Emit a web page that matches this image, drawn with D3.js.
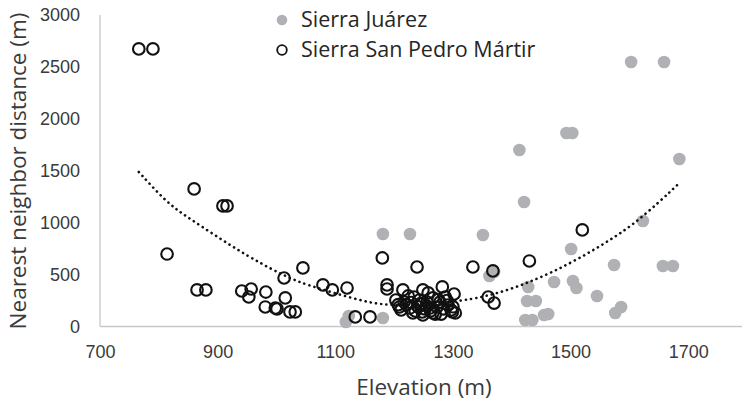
<!DOCTYPE html>
<html>
<head>
<meta charset="utf-8">
<script src="https://cdn.jsdelivr.net/npm/d3@7"></script>
<style>
  body { margin: 0; background: #fff; }
  svg { display: block; font-family: 'Open Sans', sans-serif; }
  .tick text { fill: #3a3a3a; font-size: 18px; }
  .axis-label { fill: #3a3a3a; font-size: 22.5px; }
  .legend text { fill: #262626; font-size: 21.5px; }
</style>
</head>
<body>
<svg width="742" height="405"></svg>
<script>
// Sierra Juárez (elevation m, nearest neighbour distance m)
const juarezElev = [1603, 1659, 1493, 1503, 1413, 1685, 1421, 1623, 1501, 1574, 1657, 1674,
  1428, 1472, 1504, 1510, 1545, 1426, 1441, 1576, 1586, 1423, 1435, 1455, 1462,
  1351, 1181, 1227, 1362, 1370, 1181, 1118, 1123];
const juarezDist = [2548, 2548, 1863, 1863, 1700, 1613, 1199, 1016, 747, 592, 583, 583,
  381, 429, 438, 371, 294, 246, 246, 130, 188, 63, 63, 111, 120,
  881, 891, 891, 487, 525, 82, 43, 101];

// Sierra San Pedro Mártir
const spmElev = [766, 790, 860, 909, 916, 814, 865, 880, 941, 957, 953, 982, 981, 998, 1001,
  1015, 1013, 1045, 1023, 1032, 1079, 1095, 1120, 1134, 1159, 1180, 1188, 1188,
  1239, 1334, 1368, 1360, 1370, 1430, 1520,
  1215, 1249, 1282, 1302, 1209, 1217, 1227, 1234, 1241, 1248, 1256, 1261, 1266,
  1273, 1278, 1287, 1292, 1299, 1304, 1266, 1249, 1232, 1224, 1203, 1258, 1297, 1280, 1243,
  1212, 1221, 1236, 1245, 1252, 1262, 1270, 1284, 1290, 1229, 1255, 1275, 1207, 1300];
const spmDist = [2673, 2673, 1325, 1161, 1161, 698, 352, 352, 342, 361, 284, 332, 188, 178, 169,
  275, 467, 564, 140, 140, 400, 352, 371, 92, 92, 660, 400, 361,
  573, 573, 535, 284, 226, 631, 930,
  352, 352, 381, 313, 188, 236, 178, 284, 188, 140, 236, 178, 275,
  188, 236, 284, 207, 140, 130, 130, 111, 130, 294, 255, 323, 159, 120, 255,
  160, 210, 150, 220, 170, 150, 120, 170, 250, 230, 200, 260, 210, 190];

// polynomial (order 2) trendline
const trendElev = [766, 814, 848, 930, 972, 1011, 1040, 1069, 1154, 1198, 1316, 1384, 1426,
  1470, 1516, 1562, 1606, 1652, 1685];
const trendDist = [1488, 1190, 1055, 750, 612, 496, 425, 372, 230, 197, 236, 332, 419,
  525, 660, 814, 978, 1205, 1382];

const xTicks = [700, 900, 1100, 1300, 1500, 1700];
const yTicks = [0, 500, 1000, 1500, 2000, 2500, 3000];
const seriesNames = ['Sierra Juárez', 'Sierra San Pedro Mártir'];

const svg = d3.select('svg');
const width = +svg.attr('width');

const xScale = d3.scaleLinear().domain([700, 1800]).range([100, 747]);
const yScale = d3.scaleLinear().domain([0, 3000]).range([326.5, 15]);

const juarez = juarezElev.map((x, i) => ({ x, y: juarezDist[i] }));
const spm = spmElev.map((x, i) => ({ x, y: spmDist[i] }));
const trend = trendElev.map((x, i) => ({ x, y: trendDist[i] }));

// axis lines
svg.append('line')
  .attr('x1', 100).attr('x2', 100)
  .attr('y1', yScale(3000)).attr('y2', yScale(0))
  .attr('stroke', '#c8c8c8').attr('stroke-width', 1.3);
svg.append('line')
  .attr('x1', 100).attr('x2', width)
  .attr('y1', yScale(0)).attr('y2', yScale(0))
  .attr('stroke', '#c8c8c8').attr('stroke-width', 1.3);

const xAxisG = svg.append('g')
  .attr('transform', `translate(0, ${yScale(0)})`)
  .call(d3.axisBottom(xScale).tickValues(xTicks).tickFormat(d3.format('d')).tickSize(0).tickPadding(19));
xAxisG.select('.domain').remove();
xAxisG.selectAll('text').attr('font-family', null).attr('font-size', null);

const yAxisG = svg.append('g')
  .attr('transform', 'translate(100, 0)')
  .call(d3.axisLeft(yScale).tickValues(yTicks).tickFormat(d3.format('d')).tickSize(0).tickPadding(20));
yAxisG.select('.domain').remove();
yAxisG.selectAll('text').attr('font-family', null).attr('font-size', null);

// points
svg.append('g').selectAll('circle').data(juarez)
  .enter().append('circle')
  .attr('cx', d => xScale(d.x))
  .attr('cy', d => yScale(d.y))
  .attr('r', 6.3)
  .attr('fill', '#b0b1b4');

svg.append('g').selectAll('circle').data(spm)
  .enter().append('circle')
  .attr('cx', d => xScale(d.x))
  .attr('cy', d => yScale(d.y))
  .attr('r', 5.8)
  .attr('fill', 'none')
  .attr('stroke', '#111')
  .attr('stroke-width', 2.1);

// trendline
svg.append('path')
  .attr('d', d3.line()
    .x(d => xScale(d.x))
    .y(d => yScale(d.y))
    .curve(d3.curveBasis)(trend))
  .attr('fill', 'none')
  .attr('stroke', '#111')
  .attr('stroke-width', 2.6)
  .attr('stroke-linecap', 'round')
  .attr('stroke-dasharray', '0.1,5.2');

// axis titles
svg.append('text')
  .attr('class', 'axis-label')
  .attr('x', 424)
  .attr('y', 395)
  .style('text-anchor', 'middle')
  .text('Elevation (m)');

svg.append('text')
  .attr('class', 'axis-label')
  .attr('transform', 'translate(26, 171) rotate(-90)')
  .style('text-anchor', 'middle')
  .text('Nearest neighbor distance (m)');

// legend
const legend = svg.append('g').attr('class', 'legend');
legend.append('circle')
  .attr('cx', 282).attr('cy', 20).attr('r', 5.3)
  .attr('fill', '#b0b1b4');
legend.append('circle')
  .attr('cx', 282).attr('cy', 50).attr('r', 4.8)
  .attr('fill', 'none').attr('stroke', '#111').attr('stroke-width', 1.8);
legend.selectAll('text').data(seriesNames)
  .enter().append('text')
  .attr('x', 301)
  .attr('y', (d, i) => 27 + i * 30)
  .text(d => d);
</script>
</body>
</html>
